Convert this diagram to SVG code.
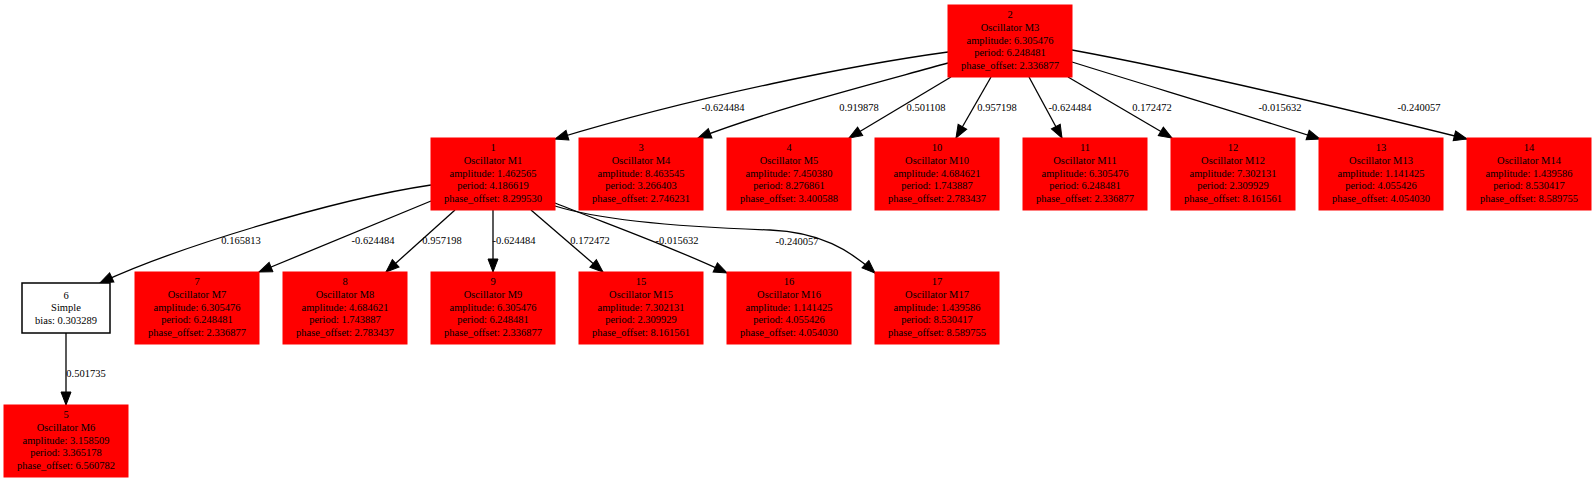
<svg xmlns="http://www.w3.org/2000/svg" width="1596" height="483" viewBox="0 0 1596 483">
<style>
text{font-family:"Liberation Serif","Times New Roman",serif;font-size:10.5px;fill:#000;text-anchor:middle}
.osc rect{fill:#ff0000;stroke:#ff0000;stroke-width:1}
.simple rect{fill:#fff;stroke:#000;stroke-width:1.5}
#edges path{fill:none;stroke:#000;stroke-width:1.3;marker-end:url(#arr)}
</style>
<defs>
<marker id="arr" markerUnits="userSpaceOnUse" markerWidth="16" markerHeight="12" refX="14" refY="6" orient="auto">
<path d="M1,1 L14,6 L1,11 z" fill="#000" stroke="#000" stroke-width="1"/>
</marker>
</defs>
<rect width="1596" height="483" fill="#fff"/>
<g id="edges">
<path d="M948,52 C860,64 700,95 555,139"/>
<path d="M948,63 C880,82 770,110 698,138"/>
<path d="M951,77 L849,138"/>
<path d="M991,77 L956,138"/>
<path d="M1029,77 L1062,138"/>
<path d="M1068,77 L1172,138"/>
<path d="M1072,62 C1155,88 1240,113 1320,139"/>
<path d="M1072,50 C1170,68 1330,105 1467,139"/>
<path d="M431,185 C330,200 170,250 100,283"/>
<path d="M431,201 L259,272"/>
<path d="M455,210 L386,272"/>
<path d="M493,210 L493,272"/>
<path d="M531,210 L603,272"/>
<path d="M555,203 C610,225 670,246 727,273"/>
<path d="M555,206 C600,220 680,227 770,230 C820,232 850,250 875,273"/>
<path d="M66,333 L66,405"/>
<text x="723" y="110.5">-0.624484</text>
<text x="859" y="110.5">0.919878</text>
<text x="926" y="110.5">0.501108</text>
<text x="997" y="110.5">0.957198</text>
<text x="1070" y="110.5">-0.624484</text>
<text x="1152" y="110.5">0.172472</text>
<text x="1280" y="110.5">-0.015632</text>
<text x="1419" y="110.5">-0.240057</text>
<text x="241" y="244">0.165813</text>
<text x="373" y="244">-0.624484</text>
<text x="442" y="244">0.957198</text>
<text x="514" y="244">-0.624484</text>
<text x="590" y="244">0.172472</text>
<text x="677" y="244">-0.015632</text>
<text x="797" y="245">-0.240057</text>
<text x="86" y="377">0.501735</text>
</g>
<g id="n2" class="osc"><rect x="948" y="5" width="124" height="72"/><text x="1010" y="18.4">2</text><text x="1010" y="30.7">Oscillator M3</text><text x="1010" y="44">amplitude: 6.305476</text><text x="1010" y="56.3">period: 6.248481</text><text x="1010" y="68.6">phase_offset: 2.336877</text></g>
<g id="n1" class="osc"><rect x="431" y="138" width="124" height="72"/><text x="493" y="151.4">1</text><text x="493" y="163.7">Oscillator M1</text><text x="493" y="177">amplitude: 1.462565</text><text x="493" y="189.3">period: 4.186619</text><text x="493" y="201.6">phase_offset: 8.299530</text></g>
<g id="n3" class="osc"><rect x="579" y="138" width="124" height="72"/><text x="641" y="151.4">3</text><text x="641" y="163.7">Oscillator M4</text><text x="641" y="177">amplitude: 8.463545</text><text x="641" y="189.3">period: 3.266403</text><text x="641" y="201.6">phase_offset: 2.746231</text></g>
<g id="n4" class="osc"><rect x="727" y="138" width="124" height="72"/><text x="789" y="151.4">4</text><text x="789" y="163.7">Oscillator M5</text><text x="789" y="177">amplitude: 7.450380</text><text x="789" y="189.3">period: 8.276861</text><text x="789" y="201.6">phase_offset: 3.400588</text></g>
<g id="n10" class="osc"><rect x="875" y="138" width="124" height="72"/><text x="937" y="151.4">10</text><text x="937" y="163.7">Oscillator M10</text><text x="937" y="177">amplitude: 4.684621</text><text x="937" y="189.3">period: 1.743887</text><text x="937" y="201.6">phase_offset: 2.783437</text></g>
<g id="n11" class="osc"><rect x="1023" y="138" width="124" height="72"/><text x="1085" y="151.4">11</text><text x="1085" y="163.7">Oscillator M11</text><text x="1085" y="177">amplitude: 6.305476</text><text x="1085" y="189.3">period: 6.248481</text><text x="1085" y="201.6">phase_offset: 2.336877</text></g>
<g id="n12" class="osc"><rect x="1171" y="138" width="124" height="72"/><text x="1233" y="151.4">12</text><text x="1233" y="163.7">Oscillator M12</text><text x="1233" y="177">amplitude: 7.302131</text><text x="1233" y="189.3">period: 2.309929</text><text x="1233" y="201.6">phase_offset: 8.161561</text></g>
<g id="n13" class="osc"><rect x="1319" y="138" width="124" height="72"/><text x="1381" y="151.4">13</text><text x="1381" y="163.7">Oscillator M13</text><text x="1381" y="177">amplitude: 1.141425</text><text x="1381" y="189.3">period: 4.055426</text><text x="1381" y="201.6">phase_offset: 4.054030</text></g>
<g id="n14" class="osc"><rect x="1467" y="138" width="124" height="72"/><text x="1529" y="151.4">14</text><text x="1529" y="163.7">Oscillator M14</text><text x="1529" y="177">amplitude: 1.439586</text><text x="1529" y="189.3">period: 8.530417</text><text x="1529" y="201.6">phase_offset: 8.589755</text></g>
<g id="n6" class="simple"><rect x="22" y="283" width="88" height="50"/><text x="66" y="298.5">6</text><text x="66" y="311">Simple</text><text x="66" y="323.5">bias: 0.303289</text></g>
<g id="n7" class="osc"><rect x="135" y="272" width="124" height="72"/><text x="197" y="285.4">7</text><text x="197" y="297.7">Oscillator M7</text><text x="197" y="311">amplitude: 6.305476</text><text x="197" y="323.3">period: 6.248481</text><text x="197" y="335.6">phase_offset: 2.336877</text></g>
<g id="n8" class="osc"><rect x="283" y="272" width="124" height="72"/><text x="345" y="285.4">8</text><text x="345" y="297.7">Oscillator M8</text><text x="345" y="311">amplitude: 4.684621</text><text x="345" y="323.3">period: 1.743887</text><text x="345" y="335.6">phase_offset: 2.783437</text></g>
<g id="n9" class="osc"><rect x="431" y="272" width="124" height="72"/><text x="493" y="285.4">9</text><text x="493" y="297.7">Oscillator M9</text><text x="493" y="311">amplitude: 6.305476</text><text x="493" y="323.3">period: 6.248481</text><text x="493" y="335.6">phase_offset: 2.336877</text></g>
<g id="n15" class="osc"><rect x="579" y="272" width="124" height="72"/><text x="641" y="285.4">15</text><text x="641" y="297.7">Oscillator M15</text><text x="641" y="311">amplitude: 7.302131</text><text x="641" y="323.3">period: 2.309929</text><text x="641" y="335.6">phase_offset: 8.161561</text></g>
<g id="n16" class="osc"><rect x="727" y="272" width="124" height="72"/><text x="789" y="285.4">16</text><text x="789" y="297.7">Oscillator M16</text><text x="789" y="311">amplitude: 1.141425</text><text x="789" y="323.3">period: 4.055426</text><text x="789" y="335.6">phase_offset: 4.054030</text></g>
<g id="n17" class="osc"><rect x="875" y="272" width="124" height="72"/><text x="937" y="285.4">17</text><text x="937" y="297.7">Oscillator M17</text><text x="937" y="311">amplitude: 1.439586</text><text x="937" y="323.3">period: 8.530417</text><text x="937" y="335.6">phase_offset: 8.589755</text></g>
<g id="n5" class="osc"><rect x="4" y="405" width="124" height="72"/><text x="66" y="418.4">5</text><text x="66" y="430.7">Oscillator M6</text><text x="66" y="444">amplitude: 3.158509</text><text x="66" y="456.3">period: 3.365178</text><text x="66" y="468.6">phase_offset: 6.560782</text></g>
</svg>
